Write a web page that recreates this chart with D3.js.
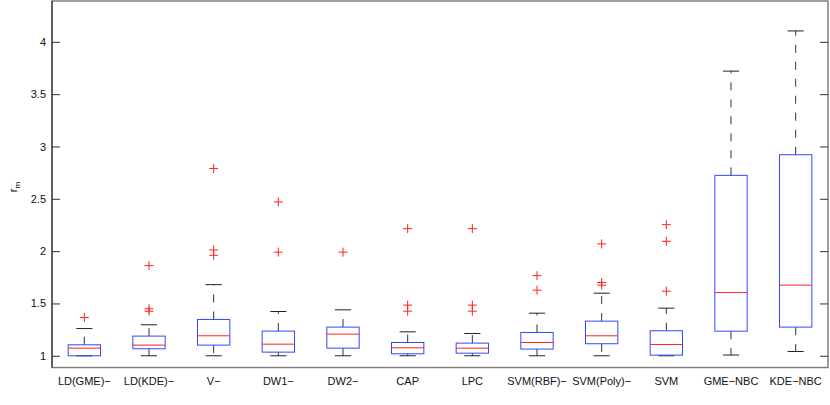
<!DOCTYPE html>
<html>
<head>
<meta charset="utf-8">
<script src="https://cdn.jsdelivr.net/npm/d3@7"></script>
<style>
  body { margin: 0; background: #fff; }
  text { font-family: "Liberation Sans", Arial, sans-serif; }
</style>
</head>
<body>
<div id="chart"></div>
<script>
// Datos
const categories = ["LD(GME)−", "LD(KDE)−", "V−", "DW1−", "DW2−", "CAP", "LPC",
                    "SVM(RBF)−", "SVM(Poly)−", "SVM", "GME−NBC", "KDE−NBC"];
const whiskerLo = [1.0, 1.0, 1.0, 1.0, 1.0, 1.0, 1.0, 1.0, 1.0, 1.0, 1.007, 1.041];
const q1        = [1.0, 1.067, 1.102, 1.035, 1.073, 1.019, 1.025, 1.064, 1.115, 1.006, 1.235, 1.274];
const medians   = [1.073, 1.102, 1.191, 1.111, 1.207, 1.076, 1.073, 1.127, 1.191, 1.108, 1.604, 1.675];
const q3        = [1.105, 1.188, 1.347, 1.236, 1.274, 1.127, 1.121, 1.223, 1.331, 1.239, 2.724, 2.921];
const whiskerHi = [1.26, 1.296, 1.68, 1.423, 1.439, 1.229, 1.213, 1.407, 1.598, 1.455, 3.72, 4.104];
const outliers  = [
    [1.366],
    [1.862, 1.449, 1.426],
    [2.79, 2.011, 1.96],
    [2.47, 1.99],
    [1.99],
    [2.215, 1.484, 1.426],
    [2.215, 1.484, 1.426],
    [1.766, 1.627],
    [2.069, 1.70, 1.675],
    [2.253, 2.094, 1.617],
    [],
    []
];
const yTicks = [1, 1.5, 2, 2.5, 3, 3.5, 4];

const W = 830, H = 405;
const margin = { left: 52, right: 828, top: 1, bottom: 367.5 };

const svg = d3.select("#chart").append("svg")
    .attr("width", W)
    .attr("height", H);

const x = d3.scaleBand().domain(categories).range([margin.left, margin.right]).padding(0);
const y = d3.scaleLinear().domain([0.888, 4.39]).range([margin.bottom, margin.top]);

const bw = x.bandwidth() * 0.5;
const capW = bw * 0.5;

// Marco
svg.append("rect")
    .attr("x", margin.left).attr("y", margin.top)
    .attr("width", margin.right - margin.left).attr("height", margin.bottom - margin.top)
    .attr("fill", "none")
    .attr("stroke", "#808080")
    .attr("stroke-width", 1.5);
svg.append("line")
    .attr("x1", margin.left).attr("x2", margin.left).attr("y1", margin.top).attr("y2", margin.bottom)
    .attr("stroke", "#222");

// Ejes
const yAxisL = svg.append("g")
    .attr("transform", `translate(${margin.left},0)`)
    .call(d3.axisLeft(y).tickValues(yTicks).tickSizeInner(-8).tickSizeOuter(0).tickPadding(6).tickFormat(d3.format("")));
yAxisL.select(".domain").remove();
yAxisL.selectAll("line").attr("stroke", "#333");
yAxisL.selectAll("text").style("font-size", "11px").attr("fill", "#111");

const yAxisR = svg.append("g")
    .attr("transform", `translate(${margin.right},0)`)
    .call(d3.axisRight(y).tickValues(yTicks).tickSizeInner(-8).tickSizeOuter(0).tickFormat(""));
yAxisR.select(".domain").remove();
yAxisR.selectAll("line").attr("stroke", "#333");

const xAxis = svg.append("g")
    .attr("transform", `translate(0,${margin.bottom})`)
    .call(d3.axisBottom(x).tickSize(0).tickPadding(10));
xAxis.select(".domain").remove();
xAxis.selectAll("text").style("font-size", "11px").attr("fill", "#111");

// Etiqueta eje y
const yl = svg.append("text")
    .attr("transform", "translate(17,187) rotate(-90)")
    .attr("text-anchor", "middle")
    .style("font-size", "11px");
yl.append("tspan").text("r");
yl.append("tspan").attr("dy", 3).style("font-size", "8px").text("m");

// Cajas
const g = svg.selectAll(".box")
    .data(categories)
    .enter().append("g")
    .attr("class", "box");

const cx = d => x(d) + x.bandwidth() / 2;

g.append("line")
    .attr("x1", cx).attr("x2", cx)
    .attr("y1", (d, i) => y(q3[i])).attr("y2", (d, i) => y(whiskerHi[i]))
    .attr("stroke", "#333").attr("stroke-dasharray", "8,9");
g.append("line")
    .attr("x1", cx).attr("x2", cx)
    .attr("y1", (d, i) => y(q1[i])).attr("y2", (d, i) => y(whiskerLo[i]))
    .attr("stroke", "#333").attr("stroke-dasharray", "8,9");

g.append("line")
    .attr("x1", d => cx(d) - capW / 2).attr("x2", d => cx(d) + capW / 2)
    .attr("y1", (d, i) => y(whiskerHi[i])).attr("y2", (d, i) => y(whiskerHi[i]))
    .attr("stroke", "#222");
g.append("line")
    .attr("x1", d => cx(d) - capW / 2).attr("x2", d => cx(d) + capW / 2)
    .attr("y1", (d, i) => y(whiskerLo[i])).attr("y2", (d, i) => y(whiskerLo[i]))
    .attr("stroke", "#222");

g.append("rect")
    .attr("x", d => cx(d) - bw / 2)
    .attr("width", bw)
    .attr("y", (d, i) => y(q3[i]))
    .attr("height", (d, i) => y(q1[i]) - y(q3[i]))
    .attr("fill", "none")
    .attr("stroke", "#3347ff");

g.append("line")
    .attr("x1", d => cx(d) - bw / 2).attr("x2", d => cx(d) + bw / 2)
    .attr("y1", (d, i) => y(medians[i])).attr("y2", (d, i) => y(medians[i]))
    .attr("stroke", "#ff2222");

// Valores atípicos
const outPts = [];
categories.forEach((c, i) => outliers[i].forEach(v => outPts.push({ c: c, v: v })));
const ps = 4.5;
svg.selectAll(".out")
    .data(outPts)
    .enter().append("path")
    .attr("class", "out")
    .attr("d", d => {
        const px = cx(d.c), py = y(d.v);
        return `M${px - ps},${py}H${px + ps}M${px},${py - ps}V${py + ps}`;
    })
    .attr("stroke", "#ff2222")
    .attr("fill", "none");
</script>
</body>
</html>
